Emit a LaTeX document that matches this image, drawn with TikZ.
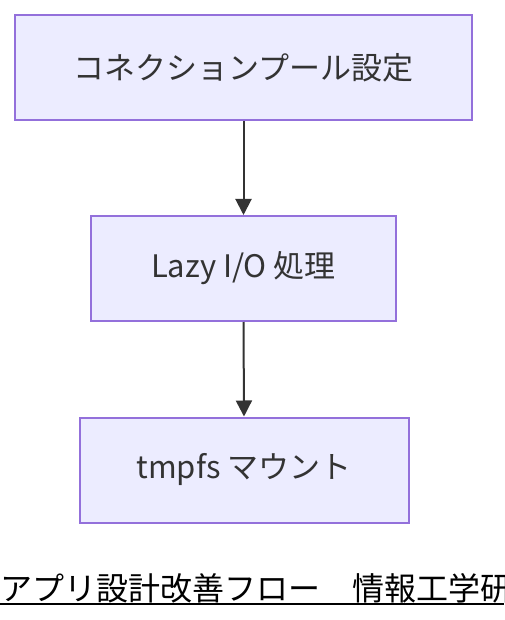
\documentclass[tikz,border=0pt]{standalone}
\usepackage{fontspec}
\setmainfont{Noto Sans CJK JP}
\usetikzlibrary{arrows.meta}
\definecolor{boxfill}{HTML}{ECECFF}
\definecolor{boxline}{HTML}{9370DB}
\definecolor{txt}{HTML}{333333}
\tikzset{
  flowbox/.style={draw=boxline, fill=boxfill, line width=2pt, text=txt, font=\fontsize{31}{36}\selectfont, inner sep=0pt},
  flowarrow/.style={draw=txt, line width=2pt, -{Triangle[length=16pt,width=16pt]}}
}
\begin{document}
\begin{tikzpicture}[x=1pt,y=-1pt]
\useasboundingbox (0,0) rectangle (504,620);
\node[flowbox, minimum width=457pt, minimum height=105pt] (a) at (243.5,67.5) {コネクションプール設定};
\node[flowbox, minimum width=305pt, minimum height=105pt] (b) at (243.5,268.5) {Lazy I/O 処理};
\node[flowbox, minimum width=329pt, minimum height=105pt] (c) at (244,470) {tmpfs マウント};
\draw[flowarrow] (a.south) -- (b.north);
\draw[flowarrow] (b.south) -- (c.north);
\node[anchor=base west, inner sep=0pt, font=\fontsize{32}{37}\selectfont, text=black] (cap) at (0,600) {アプリ設計改善フロー　情報工学研};
\coordinate (ul0) at (0,604);
\coordinate (ul1) at (504,604);
\draw[line width=2pt, black] (ul0) -- (ul1);
\end{tikzpicture}
\end{document}
